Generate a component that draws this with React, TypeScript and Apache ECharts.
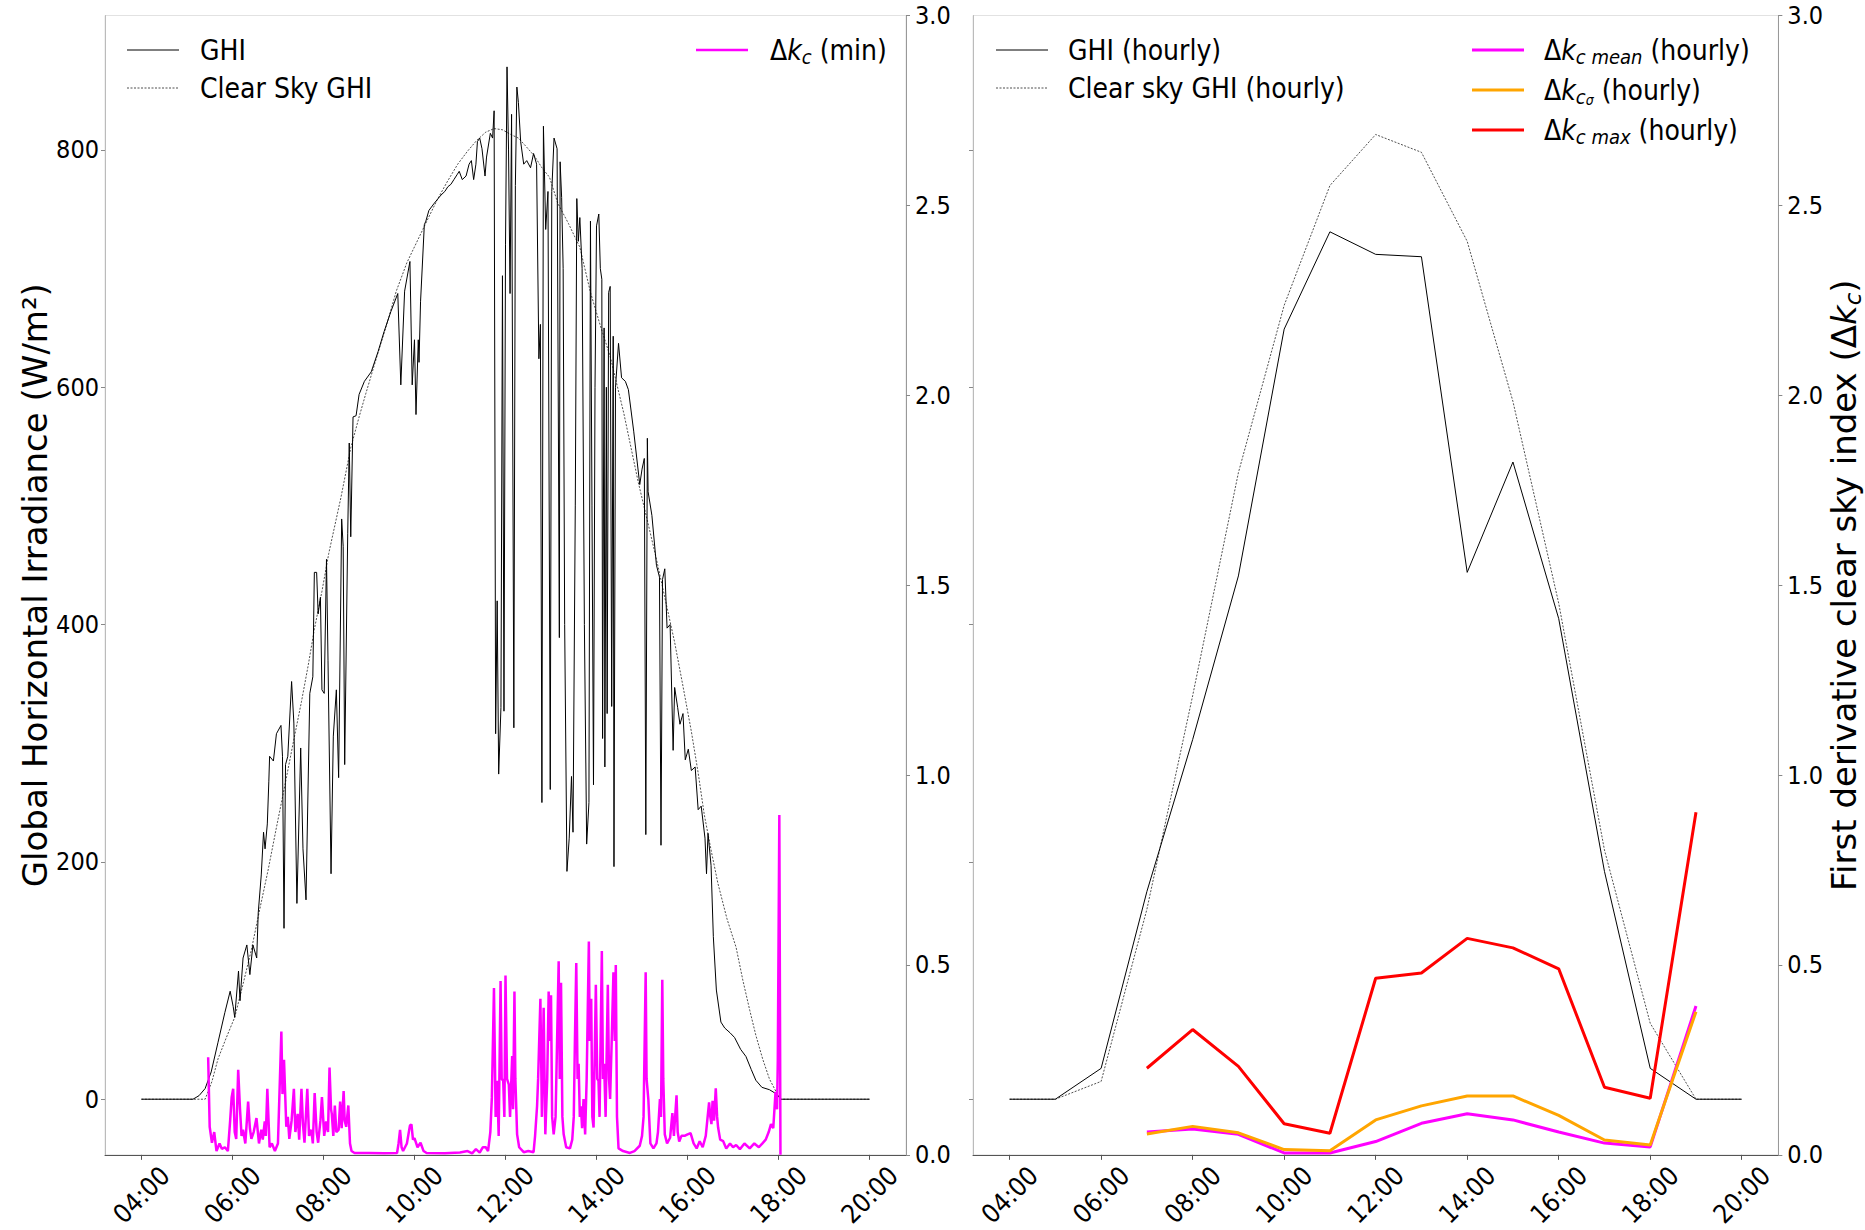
import React, { useEffect, useRef } from "react";
import * as echarts from "echarts";

// ---------- axis ticks ----------
const TICK_MINUTES = [240, 360, 480, 600, 720, 840, 960, 1080, 1200];
const TICK_LABELS = ["04:00", "06:00", "08:00", "10:00", "12:00", "14:00", "16:00", "18:00", "20:00"];
const GHI_TICKS = [0, 200, 400, 600, 800];

// ---------- minute data: [minutes after 04:00, value] ----------
const GHI_MIN: [number, number][] = [
  [0, 0], [68, 0], [76, 3], [84, 9], [92, 23], [101, 48], [110, 73], [117, 91], [121, 78], [123, 69],
  [128, 108], [130, 83], [134, 119], [139, 130], [143, 105], [147, 130], [152, 119], [154, 157], [158, 189],
  [161, 225], [163, 211], [166, 232], [168, 268], [169, 289], [174, 285], [178, 308], [184, 315], [186, 289],
  [188, 144], [190, 282], [193, 289], [198, 352], [201, 317], [205, 165], [210, 296], [213, 211], [217, 168],
  [222, 342], [226, 356], [228, 444], [231, 444], [233, 409], [236, 423], [238, 345], [241, 342], [244, 455],
  [246, 370], [250, 190], [253, 306], [257, 345], [260, 271], [264, 489], [266, 466], [268, 282], [272, 477],
  [274, 553], [276, 474], [279, 575], [283, 576], [287, 594], [294, 605], [303, 613], [312, 630], [320, 647],
  [329, 664], [338, 679], [342, 602], [347, 681], [354, 706], [357, 602], [360, 640], [362, 577], [365, 640],
  [366, 621], [368, 672], [373, 737], [375, 740], [379, 749], [386, 755], [395, 762], [400, 765], [404, 769],
  [408, 771], [412, 775], [416, 779], [419, 782], [423, 775], [428, 778], [432, 788], [435, 791], [438, 775],
  [441, 788], [443, 807], [446, 810], [449, 801], [453, 778], [455, 794], [460, 814], [463, 810], [465, 833],
  [467, 308], [469, 420], [471, 274], [474, 330], [476, 694], [478, 327], [480, 720], [482, 870], [484, 800],
  [486, 679], [488, 830], [491, 313], [493, 770], [495, 853], [497, 840], [500, 807], [504, 788], [508, 791],
  [513, 785], [517, 797], [521, 788], [524, 624], [526, 653], [528, 250], [530, 820], [533, 733], [536, 765],
  [539, 261], [541, 765], [544, 810], [548, 801], [551, 389], [552, 790], [554, 760], [556, 700], [558, 400],
  [561, 192], [564, 220], [567, 272], [569, 225], [572, 500], [574, 759], [576, 723], [578, 743], [581, 700],
  [584, 400], [587, 215], [590, 250], [592, 740], [594, 500], [596, 265], [598, 600], [600, 736], [603, 746],
  [605, 700], [607, 691], [608, 304], [610, 650], [611, 280], [613, 600], [614, 325], [616, 680], [618, 685],
  [620, 331], [622, 643], [623, 196], [625, 600], [629, 637], [633, 608], [638, 605], [642, 598], [649, 563],
  [657, 518], [660, 531], [663, 540], [665, 223], [667, 557], [668, 512], [673, 492], [679, 450], [683, 440],
  [685, 214], [687, 438], [690, 447], [693, 397], [697, 400], [701, 294], [703, 347], [707, 330], [710, 316],
  [714, 325], [717, 286], [721, 295], [725, 277], [730, 280], [734, 244], [738, 247], [743, 220], [745, 190],
  [747, 224], [751, 197], [754, 137], [758, 92], [764, 65], [769, 60], [776, 56], [782, 52], [790, 42],
  [797, 36], [804, 25], [810, 16], [818, 10], [828, 8], [837, 4.5], [843, 0], [960, 0],
];

const CLEAR_MIN: [number, number][] = [
  [0, 0], [84, 0], [93, 15], [101, 34], [112, 52], [123, 69], [134, 97], [145, 126], [156, 160], [167, 193],
  [178, 229], [189, 264], [200, 300], [211, 335], [220, 366], [228, 396], [238, 428], [247, 460], [263, 507],
  [276, 549], [287, 575], [296, 595], [310, 625], [323, 652], [336, 681], [350, 705], [365, 725], [377, 741],
  [390, 758], [403, 773], [417, 788], [430, 799], [442, 808], [454, 815], [465, 818], [476, 817], [487, 813],
  [497, 810], [507, 803], [518, 795], [528, 785], [538, 777], [549, 755], [563, 738], [578, 718], [592, 680],
  [605, 652], [618, 626], [636, 578], [655, 520], [668, 485], [679, 455], [691, 420], [703, 385], [714, 348],
  [725, 310], [734, 275], [742, 240], [751, 210], [760, 182], [772, 152], [784, 128], [793, 100], [802, 75],
  [810, 54], [819, 34], [828, 17], [837, 6], [843, 0], [960, 0],
];

const DK_MIN: [number, number][] = [
  [88, 0.257], [90, 0.074], [93, 0.032], [96, 0.06], [99, 0.01], [103, 0.03], [106, 0.016], [110, 0.02],
  [114, 0.01], [117, 0.09], [119, 0.152], [121, 0.174], [123, 0.06], [125, 0.042], [127.6, 0.224], [130, 0.12],
  [132, 0.05], [134, 0.066], [137, 0.03], [140.7, 0.14], [143, 0.07], [145, 0.042], [148, 0.06], [151.7, 0.097],
  [155, 0.03], [158, 0.066], [160, 0.04], [162.6, 0.088], [164, 0.05], [166, 0.174], [169, 0.02], [172, 0.03],
  [176, 0.01], [180, 0.03], [184.5, 0.325], [186, 0.16], [188, 0.25], [191, 0.074], [193, 0.1], [195, 0.042],
  [198, 0.09], [201, 0.174], [203, 0.06], [206, 0.108], [208, 0.04], [211, 0.174], [213, 0.08], [215, 0.032],
  [218.7, 0.174], [221, 0.05], [224, 0.066], [226, 0.03], [228.4, 0.163], [231, 0.06], [233, 0.032], [236, 0.09],
  [238, 0.152], [241, 0.05], [243.5, 0.088], [246, 0.06], [248, 0.23], [250, 0.12], [251, 0.108], [253, 0.05],
  [255, 0.13], [257, 0.06], [260, 0.066], [262, 0.14], [264, 0.07], [266.6, 0.168], [268, 0.09], [270, 0.074],
  [272.8, 0.13], [275, 0.03], [277, 0.01], [281, 0.005], [300, 0.005], [320, 0.004], [337, 0.005], [339, 0.03],
  [341, 0.066], [343, 0.02], [345, 0.01], [350, 0.03], [354, 0.077], [356, 0.08], [358, 0.04], [360, 0.044],
  [364, 0.02], [368, 0.032], [372, 0.01], [376, 0.005], [400, 0.004], [420, 0.006], [430, 0.01], [436, 0.004],
  [441, 0.015], [446, 0.006], [450, 0.02], [454, 0.02], [457, 0.01], [460, 0.06], [462, 0.15], [464.8, 0.439],
  [467, 0.1], [469, 0.195], [471, 0.05], [473.5, 0.458], [475, 0.2], [477, 0.195], [478.5, 0.1], [480, 0.472],
  [482, 0.2], [484.4, 0.185], [486, 0.1], [488.8, 0.26], [490, 0.12], [491.8, 0.43], [493, 0.2], [495.3, 0.054],
  [498, 0.02], [504, 0.007], [510, 0.01], [517, 0.007], [519, 0.05], [521.6, 0.128], [523, 0.2], [526, 0.411],
  [528, 0.1], [530.3, 0.387], [532.5, 0.054], [535, 0.2], [536.9, 0.43], [538, 0.3], [540, 0.42], [541.5, 0.1],
  [543.5, 0.054], [546, 0.1], [548, 0.3], [550.1, 0.51], [551.5, 0.2], [553.2, 0.453], [555, 0.1], [556.7, 0.054],
  [560, 0.02], [565, 0.017], [568, 0.04], [570, 0.1], [571.5, 0.3], [573.3, 0.505], [575, 0.2], [576.4, 0.24],
  [578, 0.1], [579.4, 0.128], [581, 0.07], [582.9, 0.147], [585, 0.054], [587, 0.2], [589.9, 0.562], [591, 0.3],
  [593, 0.411], [594.5, 0.1], [596.1, 0.072], [599.1, 0.448], [601, 0.2], [602.6, 0.195], [604, 0.1], [607, 0.537],
  [608.5, 0.2], [610, 0.24], [612, 0.1], [614.9, 0.448], [616.5, 0.2], [617.9, 0.147], [620, 0.3], [622.3, 0.481],
  [624, 0.3], [625.4, 0.5], [627, 0.1], [629, 0.017], [635, 0.01], [644, 0.005], [650, 0.01], [657, 0.024],
  [660, 0.05], [662, 0.1], [664.8, 0.481], [666, 0.2], [668.3, 0.147], [671, 0.03], [675, 0.017], [679, 0.03],
  [681, 0.06], [683.6, 0.147], [685, 0.1], [686.7, 0.461], [688, 0.2], [690, 0.054], [693, 0.03], [697, 0.045],
  [700, 0.11], [702, 0.05], [705.5, 0.157], [707, 0.06], [709, 0.035], [712, 0.05], [716, 0.05], [720, 0.054],
  [724, 0.057], [728, 0.03], [732, 0.017], [736, 0.036], [740, 0.02], [744, 0.05], [746, 0.09], [748.4, 0.138],
  [750, 0.1], [751.5, 0.081], [753, 0.142], [755, 0.09], [757.2, 0.175], [759, 0.1], [760.3, 0.072], [763, 0.04],
  [767, 0.036], [771, 0.017], [776, 0.03], [780, 0.02], [784, 0.026], [789, 0.015], [795, 0.03], [802, 0.017],
  [808, 0.03], [814, 0.02], [819, 0.031], [823, 0.04], [827, 0.06], [830, 0.081], [833, 0.07], [836, 0.166],
  [838, 0.12], [839, 0.25], [841, 0.895], [842.5, 0.0],
];

// ---------- hourly data ----------
const HOURS = [4, 5, 6, 7, 8, 9, 10, 11, 12, 13, 14, 15, 16, 17, 18, 19, 20];
const GHI_HOURLY = [0, 0, 26, 175, 303, 441, 649, 731, 712, 710, 444, 537, 405, 192, 26, 0, 0];
const CLEAR_HOURLY = [0, 0, 15, 160, 340, 528, 669, 770, 813, 798, 723, 588, 418, 210, 64, 0, 0];
const DK_HOURS = [7, 8, 9, 10, 11, 12, 13, 14, 15, 16, 17, 18, 19];
const DK_MEAN = [0.06, 0.068, 0.054, 0.005, 0.005, 0.035, 0.083, 0.108, 0.092, 0.06, 0.031, 0.021, 0.392];
const DK_SIGMA = [0.055, 0.075, 0.058, 0.014, 0.011, 0.092, 0.129, 0.155, 0.155, 0.104, 0.039, 0.026, 0.377];
const DK_MAX = [0.228, 0.33, 0.233, 0.082, 0.057, 0.465, 0.479, 0.57, 0.545, 0.49, 0.178, 0.149, 0.902];

const COND = "'DejaVu Sans Condensed', 'DejaVu Sans', sans-serif";
const REG = "'DejaVu Sans', sans-serif";

const toDay = (arr: [number, number][]) => arr.map(([m, v]) => [240 + m, v]);
const hourly = (hrs: number[], vals: number[]) => hrs.map((h, i) => [h * 60, vals[i]]);
const fmtTime = (v: number) => {
  const i = TICK_MINUTES.indexOf(Math.round(v));
  return i >= 0 ? TICK_LABELS[i] : "";
};

const GRIDS = [
  { left: 105, top: 15.5, width: 801, height: 1146.5 },
  { left: 973, top: 15.5, width: 808, height: 1146.5 },
];

const subRich = {
  n: { fontSize: 28, fontFamily: COND, lineHeight: 34, color: "#000" },
  i: { fontSize: 28, fontFamily: COND, fontStyle: "italic", lineHeight: 34, color: "#000" },
  s: { fontSize: 20, fontFamily: COND, fontStyle: "italic", lineHeight: 14, verticalAlign: "bottom", color: "#000" },
  ss: { fontSize: 14, fontFamily: COND, fontStyle: "italic", lineHeight: 4, verticalAlign: "bottom", color: "#000" },
};

function legendLine(x: number, y: number, color: string, width: number, dashed?: boolean) {
  return {
    type: "line",
    shape: { x1: x, y1: y, x2: x + 52, y2: y },
    style: { stroke: color, lineWidth: width, lineDash: dashed ? [2, 1.5] : null },
    z: 100,
  };
}
function legendText(x: number, y: number, text: string) {
  return {
    type: "text",
    x,
    y,
    style: { text, rich: subRich, fontSize: 28, fontFamily: COND, fill: "#000", verticalAlign: "middle" },
    z: 100,
  };
}

export default function App() {
  const ref = useRef<HTMLDivElement>(null);
  useEffect(() => {
    if (!ref.current) return;
    const chart = echarts.init(ref.current, undefined, { renderer: "svg" });

    const xAxis = GRIDS.map((_, gi) => ({
      type: "value",
      gridIndex: gi,
      min: 192,
      max: 1248,
      splitLine: { show: false },
      axisLine: { show: true, onZero: false, lineStyle: { color: "#555", width: 1 } },
      axisTick: { show: true, customValues: TICK_MINUTES, length: 5, lineStyle: { color: "#555" } },
      axisLabel: {
        customValues: TICK_MINUTES,
        formatter: fmtTime,
        rotate: 45,
        align: "center",
        verticalAlign: "middle",
        margin: 40,
        fontSize: 26,
        fontFamily: COND,
        color: "#000",
      },
    }));

    const ghiAxis = (gi: number, showLabels: boolean) => ({
      type: "value",
      gridIndex: gi,
      position: "left",
      min: -46.9,
      max: 913.3,
      splitLine: { show: false },
      axisLine: { show: true, onZero: false, lineStyle: { color: "#bbb", width: 1 } },
      axisTick: { show: true, customValues: GHI_TICKS, length: 4, lineStyle: { color: "#888" } },
      axisLabel: {
        show: showLabels,
        customValues: GHI_TICKS,
        margin: 6,
        fontSize: 25,
        fontFamily: COND,
        color: "#000",
      },
      ...(showLabels
        ? {
            name: "Global Horizontal Irradiance (W/m²)",
            nameLocation: "middle",
            nameGap: 52,
            nameRotate: 90,
            nameTextStyle: { fontSize: 34, fontFamily: REG, color: "#000" },
          }
        : {}),
    });

    const dkAxis = (gi: number, withName: boolean) => ({
      type: "value",
      gridIndex: gi,
      position: "right",
      min: 0,
      max: 3,
      interval: 0.5,
      splitLine: { show: false },
      axisLine: { show: true, onZero: false, lineStyle: { color: "#999", width: 1 } },
      axisTick: { show: true, length: 4, lineStyle: { color: "#888" } },
      axisLabel: {
        formatter: (v: number) => v.toFixed(1),
        margin: 9,
        fontSize: 25,
        fontFamily: COND,
        color: "#000",
      },
      ...(withName
        ? {
            name: "First derivative clear sky index (Δ{i|k}{s|c})",
            nameLocation: "middle",
            nameGap: 34,
            nameRotate: 90,
            nameTextStyle: {
              fontSize: 34,
              fontFamily: REG,
              color: "#000",
              rich: {
                i: { fontSize: 34, fontFamily: REG, fontStyle: "italic", color: "#000", lineHeight: 40 },
                s: { fontSize: 23, fontFamily: REG, fontStyle: "italic", color: "#000", lineHeight: 16, verticalAlign: "bottom" },
              },
            },
          }
        : {}),
    });

    const line = (name: string, xi: number, yi: number, data: any[], color: string, width: number, dashed = false, z = 2) => ({
      name,
      type: "line",
      xAxisIndex: xi,
      yAxisIndex: yi,
      data,
      showSymbol: false,
      symbol: "none",
      z,
      lineStyle: { color, width, type: dashed ? [2, 1.5] : "solid" },
    });

    const option: any = {
      animation: false,
      backgroundColor: "#fff",
      grid: GRIDS.map((g) => ({ ...g, show: true, borderColor: "#e2e2e2", borderWidth: 1, backgroundColor: "transparent" })),
      xAxis,
      yAxis: [ghiAxis(0, true), dkAxis(0, false), ghiAxis(1, false), dkAxis(1, true)],
      series: [
        line("Clear Sky GHI", 0, 0, toDay(CLEAR_MIN), "#222", 0.8, true, 2),
        line("GHI", 0, 0, toDay(GHI_MIN), "#000", 1, false, 3),
        line("Δkc (min)", 0, 1, toDay(DK_MIN), "#ff00ff", 2.5, false, 4),
        line("Clear sky GHI (hourly)", 1, 2, hourly(HOURS, CLEAR_HOURLY), "#222", 0.8, true, 2),
        line("GHI (hourly)", 1, 2, hourly(HOURS, GHI_HOURLY), "#000", 1, false, 3),
        line("Δkc mean (hourly)", 1, 3, hourly(DK_HOURS, DK_MEAN), "#ff00ff", 3, false, 4),
        line("Δkcσ (hourly)", 1, 3, hourly(DK_HOURS, DK_SIGMA), "#ffa500", 3, false, 5),
        line("Δkc max (hourly)", 1, 3, hourly(DK_HOURS, DK_MAX), "#ff0000", 3, false, 6),
      ],
      graphic: [
        legendLine(127, 50, "#000", 1),
        legendText(200, 50, "GHI"),
        legendLine(127, 88, "#222", 0.8, true),
        legendText(200, 88, "Clear Sky GHI"),
        legendLine(696, 50, "#ff00ff", 2.5),
        legendText(770, 50, "{n|Δ}{i|k}{s|c}{n| (min)}"),
        legendLine(996, 50, "#000", 1),
        legendText(1068, 50, "GHI (hourly)"),
        legendLine(996, 88, "#222", 0.8, true),
        legendText(1068, 88, "Clear sky GHI (hourly)"),
        legendLine(1472, 50, "#ff00ff", 3),
        legendText(1544, 50, "{n|Δ}{i|k}{s|c mean}{n| (hourly)}"),
        legendLine(1472, 90, "#ffa500", 3),
        legendText(1544, 90, "{n|Δ}{i|k}{s|c}{ss|σ}{n| (hourly)}"),
        legendLine(1472, 130, "#ff0000", 3),
        legendText(1544, 130, "{n|Δ}{i|k}{s|c max}{n| (hourly)}"),
      ],
    };
    chart.setOption(option);
    return () => chart.dispose();
  }, []);

  return (
    <div
      ref={ref}
      style={{ position: "absolute", left: 0, top: 0, width: 1865, height: 1230, background: "#fff" }}
    />
  );
}
